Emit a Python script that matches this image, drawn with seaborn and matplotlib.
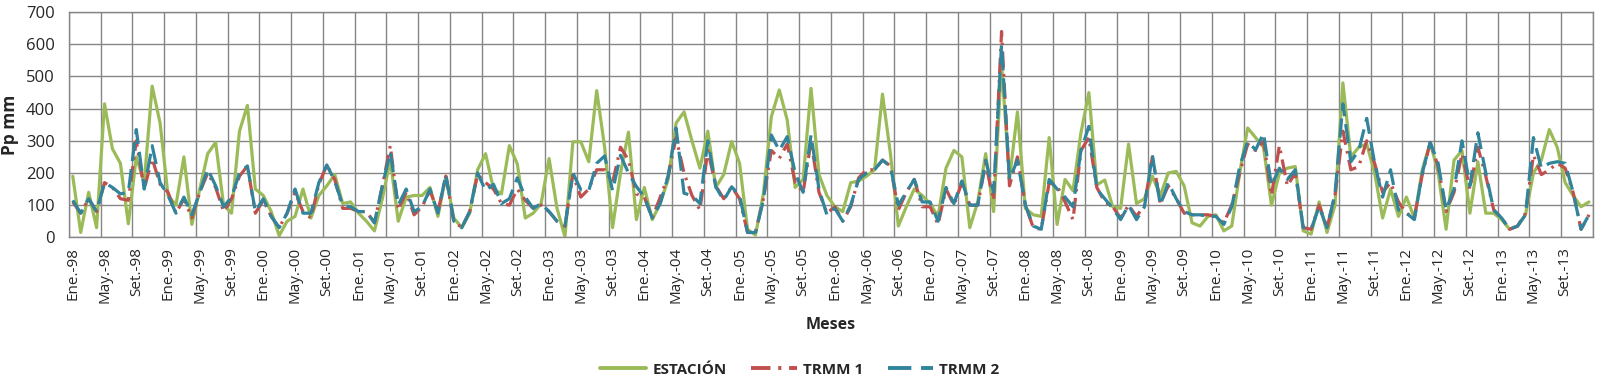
import matplotlib
matplotlib.use('Agg')
import matplotlib.pyplot as plt
import numpy as np
import pandas as pd
import seaborn as sns

# monthly precipitation, Ene-98 .. Dic-13
estacion = [190, 15, 140, 30, 415, 275, 230, 42, 250, 170, 470, 355,
            130, 100, 250, 40, 150, 260, 295, 100, 75, 330, 410, 150,
            130, 80, 5, 50, 65, 150, 60, 130, 160, 195, 105, 110,
            75, 50, 20, 120, 240, 50, 125, 130, 130, 155, 65, 190,
            60, 30, 75, 210, 260, 150, 135, 285, 228, 60, 75, 105,
            245, 90, 2, 297, 297, 235, 456, 280, 30, 200, 327, 55,
            155, 55, 105, 180, 355, 390, 300, 215, 330, 155, 195, 298,
            230, 25, 7, 135, 375, 458, 365, 155, 180, 463, 195, 130,
            95, 80, 170, 175, 190, 210, 445, 260, 35, 95, 150, 130,
            105, 65, 215, 270, 250, 30, 110, 260, 80, 540, 180, 390,
            90, 70, 65, 310, 40, 180, 145, 325, 450, 163, 178, 95,
            90, 290, 105, 120, 190, 130, 200, 205, 160, 45, 35, 65,
            70, 20, 35, 200, 340, 310, 280, 100, 200, 215, 220, 20,
            10, 110, 15, 100, 480, 250, 280, 290, 200, 60, 150, 65,
            125, 60, 210, 295, 200, 25, 240, 270, 75, 235, 75, 75,
            55, 25, 35, 70, 200, 240, 335, 280, 170, 130, 95, 110]

trmm1 = [110, 75, 120, 80, 170, 155, 120, 115, 300, 150, 245, 165,
         140, 75, 120, 60, 140, 200, 155, 80, 120, 190, 222, 75,
         115, 65, 30, 75, 140, 80, 60, 165, 225, 180, 90, 90,
         80, 80, 45, 160, 285, 85, 140, 70, 95, 145, 80, 190,
         50, 30, 80, 195, 170, 150, 105, 100, 150, 115, 90, 100,
         80, 50, 35, 195, 125, 150, 210, 210, 170, 280, 240, 135,
         125, 60, 125, 190, 310, 200, 130, 85, 270, 160, 120, 157,
         120, 15, 15, 120, 270, 245, 290, 170, 140, 298, 140, 75,
         95, 50, 95, 185, 210, 210, 240, 222, 85, 140, 180, 95,
         95, 40, 150, 100, 170, 100, 100, 230, 115, 640, 160, 250,
         100, 30, 25, 170, 160, 110, 55, 270, 310, 155, 110, 95,
         60, 100, 65, 100, 250, 105, 160, 120, 75, 70, 70, 70,
         65, 45, 100, 200, 290, 270, 300, 130, 285, 160, 200, 30,
         25, 100, 30, 130, 330, 210, 220, 300, 230, 140, 170, 110,
         75, 60, 195, 295, 220, 80, 140, 260, 150, 280, 190, 85,
         60, 25, 35, 75, 255, 195, 210, 230, 215, 140, 25, 70]

trmm2 = [115, 75, 120, 80, 170, 155, 135, 140, 335, 150, 285, 170,
         130, 75, 125, 70, 140, 212, 160, 95, 125, 200, 222, 80,
         120, 65, 30, 75, 150, 75, 75, 170, 225, 175, 100, 95,
         80, 80, 45, 160, 265, 100, 150, 80, 95, 150, 75, 195,
         50, 30, 80, 200, 145, 165, 105, 120, 185, 125, 90, 105,
         80, 50, 35, 200, 148, 145, 230, 253, 145, 255, 200, 158,
         125, 60, 105, 190, 340, 137, 130, 105, 300, 157, 115, 157,
         130, 15, 15, 115, 318, 270, 313, 200, 140, 318, 150, 70,
         90, 50, 100, 180, 200, 210, 240, 220, 100, 140, 180, 110,
         110, 50, 155, 105, 175, 100, 100, 240, 140, 600, 180, 240,
         100, 35, 25, 180, 150, 125, 95, 270, 345, 150, 120, 90,
         55, 100, 55, 95, 255, 100, 170, 120, 80, 70, 70, 65,
         65, 40, 95, 220, 298, 272, 323, 160, 215, 180, 210, 30,
         25, 95, 30, 135, 415, 235, 270, 370, 230, 125, 210, 85,
         75, 55, 200, 295, 230, 85, 150, 300, 160, 325, 200, 85,
         60, 25, 35, 70, 310, 215, 230, 235, 230, 140, 25, 70]

meses = ['Ene.', 'Feb.', 'Mar.', 'Abr.', 'May.', 'Jun.',
         'Jul.', 'Ago.', 'Set.', 'Oct.', 'Nov.', 'Dic.']
anios = ['98', '99', '00', '01', '02', '03', '04', '05',
         '06', '07', '08', '09', '10', '11', '12', '13']
etiquetas = [f'{m}-{a}' for a in anios for m in meses]

series = ['ESTACIÓN', 'TRMM 1', 'TRMM 2']
colores = {'ESTACIÓN': '#9BBB59', 'TRMM 1': '#C0504D', 'TRMM 2': '#31849B'}
trazos = {'ESTACIÓN': '', 'TRMM 1': (5, 2, 0.8, 2), 'TRMM 2': (6, 2.5)}

n = len(etiquetas)
df = pd.DataFrame({'mes': np.arange(n), 'ESTACIÓN': estacion,
                   'TRMM 1': trmm1, 'TRMM 2': trmm2})
df = df.melt(id_vars='mes', var_name='serie', value_name='pp')

sns.set_style('white')
plt.rcParams['font.family'] = ['Open Sans', 'DejaVu Sans']

fig, ax = plt.subplots(figsize=(16, 3.8), dpi=100)
fig.subplots_adjust(left=0.043, right=0.9956, top=0.968, bottom=0.3755)

sns.lineplot(data=df, x='mes', y='pp', hue='serie', style='serie',
             hue_order=series, style_order=series, palette=colores,
             dashes=trazos, linewidth=2.3, ax=ax, legend=True)

gris = '#868686'
ax.set_xlim(-0.5, n - 0.5)
ax.set_ylim(0, 700)
ax.set_yticks(range(0, 701, 100))
ax.set_xticks(range(0, n, 4))
ax.set_xticklabels(etiquetas[::4], rotation=90, fontsize=11)
ax.set_xticks(np.arange(-0.5, n, 4), minor=True)
ax.tick_params(axis='x', which='major', length=0, pad=7)
ax.tick_params(axis='x', which='minor', length=4, color=gris)
ax.tick_params(axis='y', length=4, color=gris, labelsize=12, pad=6)
ax.grid(True, which='minor', axis='x', color=gris, lw=1)
ax.grid(True, which='major', axis='y', color=gris, lw=1)
ax.set_axisbelow(True)
for s in ax.spines.values():
    s.set_color(gris)
    s.set_linewidth(1)

ax.set_ylabel('Pp mm', fontsize=12.5, fontweight='bold', labelpad=5)
ax.set_xlabel('Meses', fontsize=11.5, fontweight='bold', labelpad=10)

handles, labels = ax.get_legend_handles_labels()
ax.get_legend().remove()
for h in handles:
    h.set_linewidth(2.8)
fig.legend(handles, labels, loc='center', bbox_to_anchor=(0.5, 0.027),
           ncol=3, frameon=False, handlelength=3.0, handletextpad=0.4,
           columnspacing=1.6, prop={'weight': 'bold', 'size': 11})

fig.savefig('out.png', dpi=100)
